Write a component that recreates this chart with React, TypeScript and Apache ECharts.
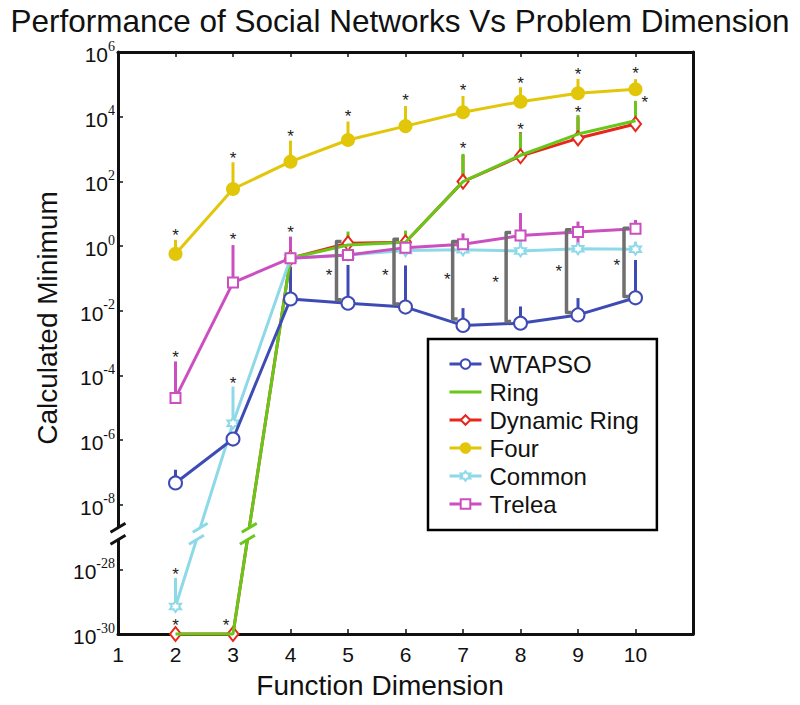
import React, { useEffect, useRef } from "react";
import * as echarts from "echarts";

// ---------- data ----------
const dims = [2, 3, 4, 5, 6, 7, 8, 9, 10];
const xTickLabels = ["1", "2", "3", "4", "5", "6", "7", "8", "9", "10"];
const yTickExponents = [-30, -28, -8, -6, -4, -2, 0, 2, 4, 6];

const wtapsoMean = [4.7e-8, 1.07e-6, 0.023, 0.017, 0.0129, 0.0035, 0.0041, 0.0074, 0.025];
const wtapsoTop = [1.2e-7, null, 0.23, 0.26, 0.25, 0.012, 0.0135, 0.0245, 0.37];

const ringMean = [1e-30, 1e-30, 0.42, 1.07, 1.3, 98, 640, 2900, 7500];
const ringTop = [null, null, null, 2.8, 3.0, 708, 3090, 11200, 30900];

const dynRingMean = [1e-30, 1e-30, 0.42, 1.22, 1.3, 98, 600, 2140, 5900];
const dynRingTop = [null, null, null, null, null, 650, 3300, 10000, 28000];

const fourMean = [0.57, 58, 405, 1900, 5100, 13700, 29100, 52900, 70300];
const fourTop = [1.55, 389, 1820, 7080, 21400, 43600, 81300, 148000, 144500];

const commonMean = [7.1e-30, 3.3e-6, 0.42, 0.53, 0.72, 0.76, 0.7, 0.82, 0.8];
const commonTop = [5.4e-29, 4.5e-5, null, null, null, null, 1.55, null, 1.37];

const treleaMean = [2e-5, 0.074, 0.42, 0.53, 0.89, 1.14, 2.1, 2.7, 3.4];
const treleaTop = [2.7e-4, 1.07, 1.95, null, null, 2.45, 10.5, 5.7, 6.4];
const treleaLow = [null, null, null, null, null, null, null, 0.85, null];

// significance brackets (gray) between WTAPSO and the other networks
const bracketX = [4.8, 5.8, 6.82, 7.75, 8.8, 9.8];
const bracketHigh = [1.37, 1.62, 1.37, 2.63, 3.16, 3.55];
const bracketLow = [0.0216, 0.0162, 0.0055, 0.0046, 0.0087, 0.0275];

// asterisk marks [x, value]
const starMarks: [number, number][] = [
  [2, 2.7], [3, 622], [4, 2920], [5, 12100], [6, 38600], [7, 78700], [8, 136000], [9, 246000], [10, 259000],
  [7, 1270], [8, 4910], [9, 16900], [10.16, 34500], [2, 2.3e-30], [2.88, 2.3e-30],
  [2, 8.6e-29], [3, 6.9e-5],
  [2, 4.5e-4], [3, 1.95], [4, 3.3],
  [4.67, 0.155], [5.65, 0.151], [6.725, 0.11], [7.565, 0.089], [8.666, 0.195], [9.675, 0.309],
];

// ---------- broken log axis ----------
const BREAK_SHIFT = 18; // decades removed between 1e-28 and 1e-9
const BREAK_T = -8.9;
const toAxis = (v: number) => {
  const e = Math.log10(v);
  return e < -20 ? e + BREAK_SHIFT : e;
};
const fromAxis = (t: number) => (t < -9 ? t - BREAK_SHIFT : t);

const C = {
  blue: "#3f4bb5",
  green: "#68c81a",
  red: "#e8261b",
  yellow: "#e2c60a",
  cyan: "#8ed9e8",
  magenta: "#cc4fc0",
  gray: "#6f6f6f",
};
const SANS = "Liberation Sans";

const hexagram =
  "path://M0,-10L2.9,-5L8.7,-5L5.8,0L8.7,5L2.9,5L0,10L-2.9,5L-8.7,5L-5.8,0L-8.7,-5L-2.9,-5Z";

function lineSeries(name: string, mean: number[], color: string, symbol: string, size: any, z: number, fill?: string) {
  const noSym = symbol === "none";
  return {
    type: "line",
    name,
    data: dims.map((d, i) => [d, toAxis(mean[i])]),
    symbol: noSym ? "circle" : symbol,
    symbolSize: size,
    showSymbol: !noSym,
    clip: false,
    z,
    lineStyle: { color, width: 3 },
    itemStyle: { color: fill || color, borderColor: color, borderWidth: 2 },
    emphasis: { disabled: true },
  };
}

function errSeries(color: string, mean: number[], top: (number | null)[], low: (number | null)[] | null, z: number) {
  const data = dims
    .map((d, i) =>
      top[i] == null ? null : [d, toAxis((low && low[i]) || mean[i]), toAxis(top[i] as number)]
    )
    .filter(Boolean);
  return {
    type: "custom",
    silent: true,
    z,
    clip: false,
    data,
    renderItem: (params: any, api: any) => {
      const p1 = api.coord([api.value(0), api.value(1)]);
      const p2 = api.coord([api.value(0), api.value(2)]);
      return {
        type: "line",
        shape: { x1: p1[0], y1: p1[1], x2: p2[0], y2: p2[1] },
        style: { stroke: color, lineWidth: 3 },
      };
    },
  };
}

function breakSeries(color: string, data: number[][], z: number) {
  return {
    type: "custom",
    silent: true,
    z,
    clip: false,
    data,
    renderItem: (params: any, api: any) => {
      const p1 = api.coord([api.value(0), api.value(1)]);
      const p2 = api.coord([api.value(2), api.value(3)]);
      const yb = api.coord([api.value(0), BREAK_T])[1];
      const at = (y: number) =>
        p2[1] === p1[1] ? p1[0] : p1[0] + ((y - p1[1]) / (p2[1] - p1[1])) * (p2[0] - p1[0]);
      const ya = yb - 6;
      const yc = yb + 6;
      const xa = at(ya);
      const xc = at(yc);
      const dx = 7.5;
      const dy = 4.5;
      return {
        type: "group",
        children: [
          {
            type: "polygon",
            shape: { points: [[xa - dx, ya + dy], [xa + dx, ya - dy], [xc + dx, yc - dy], [xc - dx, yc + dy]] },
            style: { fill: "#fff" },
          },
          { type: "line", shape: { x1: xa - dx, y1: ya + dy, x2: xa + dx, y2: ya - dy }, style: { stroke: color, lineWidth: 3 } },
          { type: "line", shape: { x1: xc - dx, y1: yc + dy, x2: xc + dx, y2: yc - dy }, style: { stroke: color, lineWidth: 3 } },
        ],
      };
    },
  };
}

const axisLineStyle = { onZero: false, lineStyle: { color: "#111", width: 3 } };
const tickStyle = { inside: true, length: 5, lineStyle: { color: "#111", width: 1.5 } };

const option: any = {
  animation: false,
  title: {
    text: "Performance of Social Networks Vs Problem Dimension",
    left: "center",
    top: 7,
    padding: 0,
    textStyle: { fontSize: 31.5, lineHeight: 28, fontWeight: "normal", fontFamily: SANS, color: "#111" },
  },
  grid: { left: 118, top: 52, width: 575, height: 582 },
  legend: {
    data: [
      "WTAPSO",
      { name: "Ring", itemStyle: { opacity: 0 } },
      "Dynamic Ring",
      "Four",
      "Common",
      "Trelea",
    ],
    orient: "vertical",
    left: 428,
    top: 339,
    padding: [13, 18, 14, 20],
    itemGap: 4,
    itemWidth: 32,
    itemHeight: 12,
    borderColor: "#000",
    borderWidth: 2.5,
    borderRadius: 0,
    backgroundColor: "#fff",
    selectedMode: false,
    lineStyle: { width: 3 },
    textStyle: { fontSize: 24, fontFamily: SANS, color: "#111", padding: [0, 0, 0, 3] },
    z: 20,
  },
  xAxis: [
    {
      type: "value",
      min: 1,
      max: 11,
      interval: 1,
      axisLine: axisLineStyle,
      axisTick: tickStyle,
      splitLine: { show: false },
      axisLabel: {
        margin: 10,
        fontSize: 21,
        fontFamily: SANS,
        color: "#111",
        formatter: (v: number) => xTickLabels[Math.round(v) - 1] || "",
      },
    },
    {
      type: "value",
      position: "top",
      min: 1,
      max: 11,
      interval: 1,
      axisLine: axisLineStyle,
      axisTick: tickStyle,
      splitLine: { show: false },
      axisLabel: { show: false },
    },
  ],
  yAxis: [
    {
      type: "value",
      position: "left",
      min: -12,
      max: 6,
      interval: 2,
      axisLine: axisLineStyle,
      axisTick: tickStyle,
      splitLine: { show: false },
      axisLabel: {
        margin: 3,
        formatter: (v: number) => {
          const e = Math.round(fromAxis(v));
          if (!yTickExponents.includes(e)) return "";
          return `{b|10}{e|${e}}`;
        },
        rich: {
          b: { fontSize: 21, fontFamily: SANS, color: "#111", verticalAlign: "bottom" },
          e: { fontSize: 14, fontFamily: "Liberation Serif", color: "#111", verticalAlign: "top", padding: [0, 0, 12, 0] },
        },
      },
    },
    {
      type: "value",
      position: "right",
      min: -12,
      max: 6,
      interval: 2,
      axisLine: { show: true, onZero: false, lineStyle: { color: "#111", width: 3 } },
      axisTick: { show: false },
      splitLine: { show: false },
      axisLabel: { show: false },
    },
  ],
  graphic: [
    {
      type: "text",
      x: 47,
      y: 318,
      rotation: Math.PI / 2,
      style: { text: "Calculated Minimum", fontSize: 28, fontFamily: SANS, fill: "#111", align: "center", verticalAlign: "middle" },
    },
    {
      type: "text",
      x: 380,
      y: 685,
      style: { text: "Function Dimension", fontSize: 28, fontFamily: SANS, fill: "#111", align: "center", verticalAlign: "middle" },
    },
  ],
  series: [
    lineSeries("Four", fourMean, C.yellow, "circle", 12, 3),
    lineSeries("Dynamic Ring", dynRingMean, C.red, "emptyDiamond", [11, 14], 4),
    lineSeries("Ring", ringMean, C.green, "none", 0, 5),
    lineSeries("Common", commonMean, C.cyan, hexagram, 11, 6, "#fff"),
    lineSeries("WTAPSO", wtapsoMean, C.blue, "emptyCircle", 13, 7),
    lineSeries("Trelea", treleaMean, C.magenta, "emptyRect", 10, 8),
    errSeries(C.yellow, fourMean, fourTop, null, 2),
    errSeries(C.red, dynRingMean, dynRingTop, null, 2),
    errSeries(C.green, ringMean, ringTop, null, 2),
    errSeries(C.cyan, commonMean, commonTop, null, 2),
    errSeries(C.blue, wtapsoMean, wtapsoTop, null, 2),
    errSeries(C.magenta, treleaMean, treleaTop, treleaLow, 2),
    {
      type: "custom",
      silent: true,
      z: 9,
      clip: false,
      data: bracketX.map((x, i) => [x, toAxis(bracketLow[i]), toAxis(bracketHigh[i])]),
      renderItem: (params: any, api: any) => {
        const top = api.coord([api.value(0), api.value(2)]);
        const bot = api.coord([api.value(0), api.value(1)]);
        return {
          type: "polyline",
          shape: { points: [[top[0] + 5, top[1]], [top[0], top[1]], [bot[0], bot[1]], [bot[0] + 5, bot[1]]] },
          style: { stroke: C.gray, lineWidth: 3.5, fill: null, lineJoin: "round" },
        };
      },
    },
    {
      type: "custom",
      silent: true,
      z: 12,
      clip: false,
      data: starMarks.map(([x, v]) => [x, toAxis(v)]),
      renderItem: (params: any, api: any) => {
        const p = api.coord([api.value(0), api.value(1)]);
        return {
          type: "text",
          x: p[0],
          y: p[1] + 3,
          style: { text: "*", fontSize: 17, fontFamily: SANS, fill: "#222", align: "center", verticalAlign: "middle" },
        };
      },
    },
    breakSeries(C.cyan, [[dims[0], toAxis(commonMean[0]), dims[1], toAxis(commonMean[1])]], 11),
    breakSeries(C.green, [[dims[1], toAxis(ringMean[1]), dims[2], toAxis(ringMean[2])]], 11),
    breakSeries("#111", [[1, 6, 1, -12]], 11),
  ],
};

export default function App() {
  const ref = useRef<HTMLDivElement>(null);
  useEffect(() => {
    const chart = echarts.init(ref.current as HTMLDivElement, null, { renderer: "svg" });
    chart.setOption(option);
    return () => chart.dispose();
  }, []);
  return (
    <div
      ref={ref}
      style={{ position: "fixed", left: 0, top: 0, width: 800, height: 705, background: "#fff" }}
    />
  );
}
